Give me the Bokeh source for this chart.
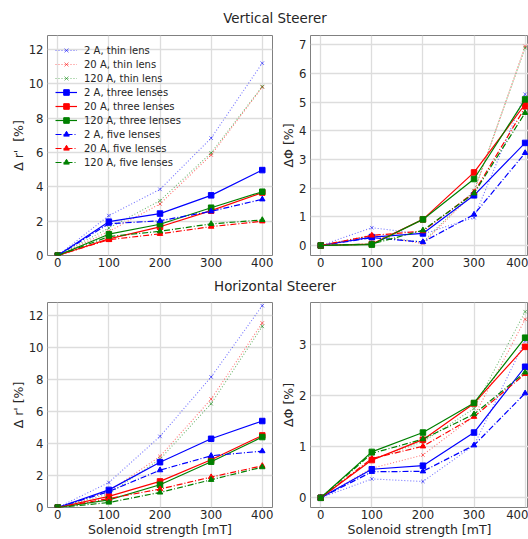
from bokeh.plotting import figure
from bokeh.layouts import column, row
from bokeh.models import Label, Range1d
from bokeh.embed import file_html
from bokeh.resources import INLINE

FONT = "DejaVu Sans"
TXT = "#262626"

x_mT = [0, 100, 200, 300, 400]
x_ticks = [0, 100, 200, 300, 400]

labels = ["2 A, thin lens", "20 A, thin lens", "120 A, thin lens",
          "2 A, three lenses", "20 A, three lenses", "120 A, three lenses",
          "2 A, five lenses", "20 A, five lenses", "120 A, five lenses"]

# Vertical steerer, delta r' [%]
v_r_2A_thin = [0, 2.32, 3.85, 6.83, 11.19]
v_r_20A_thin = [0, 1.40, 3.00, 5.85, 9.80]
v_r_120A_thin = [0, 1.60, 3.19, 5.97, 9.83]
v_r_2A_three = [0, 1.97, 2.44, 3.50, 4.97]
v_r_20A_three = [0, 0.97, 1.67, 2.61, 3.66]
v_r_120A_three = [0, 1.24, 1.82, 2.78, 3.71]
v_r_2A_five = [0, 1.85, 2.02, 2.57, 3.27]
v_r_20A_five = [0, 0.92, 1.26, 1.68, 1.99]
v_r_120A_five = [0, 1.10, 1.41, 1.84, 2.07]

# Vertical steerer, delta Phi [%]
v_p_2A_thin = [0, 0.62, 0.40, 0.97, 5.28]
v_p_20A_thin = [0, 0.36, 0.07, 1.85, 6.95]
v_p_120A_thin = [0, 0.33, 0.12, 1.90, 6.90]
v_p_2A_three = [0, 0.29, 0.42, 1.75, 3.58]
v_p_20A_three = [0, 0.05, 0.91, 2.55, 4.93]
v_p_120A_three = [0, 0.03, 0.91, 2.32, 5.10]
v_p_2A_five = [0, 0.27, 0.12, 1.08, 3.23]
v_p_20A_five = [0, 0.35, 0.50, 1.85, 4.82]
v_p_120A_five = [0, 0.05, 0.53, 1.82, 4.63]

# Horizontal steerer, delta r' [%]
h_r_2A_thin = [0, 1.56, 4.44, 8.15, 12.60]
h_r_20A_thin = [0, 1.00, 3.19, 6.77, 11.52]
h_r_120A_thin = [0, 0.85, 3.02, 6.48, 11.31]
h_r_2A_three = [0, 1.10, 2.83, 4.29, 5.40]
h_r_20A_three = [0, 0.69, 1.63, 2.98, 4.50]
h_r_120A_three = [0, 0.48, 1.42, 2.86, 4.40]
h_r_2A_five = [0, 1.00, 2.33, 3.23, 3.52]
h_r_20A_five = [0, 0.56, 1.15, 1.90, 2.60]
h_r_120A_five = [0, 0.31, 0.94, 1.73, 2.52]

# Horizontal steerer, delta Phi [%]
h_p_2A_thin = [0, 0.37, 0.32, 1.03, 3.08]
h_p_20A_thin = [0, 0.58, 0.84, 1.60, 3.50]
h_p_120A_thin = [0, 0.75, 1.10, 1.75, 3.65]
h_p_2A_three = [0, 0.56, 0.63, 1.28, 2.57]
h_p_20A_three = [0, 0.74, 1.14, 1.85, 2.96]
h_p_120A_three = [0, 0.90, 1.28, 1.86, 3.14]
h_p_2A_five = [0, 0.51, 0.52, 1.03, 2.05]
h_p_20A_five = [0, 0.77, 1.01, 1.59, 2.43]
h_p_120A_five = [0, 0.87, 1.15, 1.64, 2.46]

colors = ["#0000ff", "#ff0000", "#008000"]
kinds = ["thin", "thin", "thin", "three", "three", "three", "five", "five", "five"]

STYLE = {
    "thin": dict(dash="1 2", width=1.1, alpha=0.55, marker="x", size=5),
    "three": dict(dash="solid", width=1.2, alpha=1.0, marker="square", size=5.5),
    "five": dict(dash="6 2 1 2", width=1.2, alpha=1.0, marker="triangle", size=5.5),
}


def panel(width, height, x_end, y_rng, yticks, ylabel, series, borders, xlabel=None, legend=False):
    bl, br, bt, bb = borders
    p = figure(width=width, height=height, x_range=Range1d(-20, x_end),
               y_range=Range1d(*y_rng), toolbar_location=None, output_backend="svg",
               min_border_left=bl, min_border_right=br, min_border_top=bt,
               min_border_bottom=bb)
    p.outline_line_color = "#808080"
    p.outline_line_width = 1
    p.grid.grid_line_color = "#dddddd"
    p.grid.grid_line_width = 1.3
    for ax in (p.xaxis, p.yaxis):
        ax.major_tick_out = 0
        ax.major_tick_in = 0
        ax.minor_tick_line_color = None
        ax.axis_line_color = None
        ax.major_label_text_font = FONT
        ax.major_label_text_font_size = "11.7px"
        ax.major_label_text_color = TXT
        ax.axis_label_text_font = FONT
        ax.axis_label_text_font_size = "12.5px"
        ax.axis_label_text_font_style = "normal"
        ax.axis_label_text_color = TXT
    p.yaxis.major_label_standoff = 4
    p.yaxis.axis_label_standoff = 0
    p.xaxis.major_label_standoff = 2
    p.xaxis.axis_label_standoff = 0
    p.xaxis.ticker = x_ticks
    p.yaxis.ticker = yticks
    p.yaxis.axis_label = ylabel
    if xlabel:
        p.xaxis.axis_label = xlabel
    for i, ys in enumerate(series):
        st = STYLE[kinds[i]]
        c = colors[i % 3]
        kw = {"legend_label": labels[i]} if legend else {}
        p.line(x_mT, ys, line_color=c, line_width=st["width"], line_dash=st["dash"],
               line_alpha=st["alpha"], **kw)
        p.scatter(x_mT, ys, marker=st["marker"], size=st["size"], line_color=c,
                  fill_color=c, line_alpha=st["alpha"], fill_alpha=st["alpha"], **kw)
    if legend:
        lg = p.legend[0]
        lg.location = "top_left"
        lg.background_fill_alpha = 0
        lg.border_line_alpha = 0
        lg.label_text_font = FONT
        lg.label_text_font_size = "10px"
        lg.label_text_color = TXT
        lg.glyph_width = 22
        lg.glyph_height = 14
        lg.label_height = 14
        lg.spacing = 0
        lg.padding = 3
        lg.margin = 5
        lg.label_standoff = 7
    return p


def title_fig(text, h, center_from_top):
    t = figure(width=528, height=h, x_range=Range1d(0, 528), y_range=Range1d(0, h),
               toolbar_location=None, output_backend="svg", min_border=0)
    t.axis.visible = False
    t.grid.visible = False
    t.outline_line_color = None
    t.add_layout(Label(x=274.5, y=h - center_from_top, text=text, text_align="center",
                       text_baseline="middle", text_font=FONT, text_font_size="13.4px",
                       text_color=TXT))
    return t


v_r = [v_r_2A_thin, v_r_20A_thin, v_r_120A_thin, v_r_2A_three, v_r_20A_three,
       v_r_120A_three, v_r_2A_five, v_r_20A_five, v_r_120A_five]
v_p = [v_p_2A_thin, v_p_20A_thin, v_p_120A_thin, v_p_2A_three, v_p_20A_three,
       v_p_120A_three, v_p_2A_five, v_p_20A_five, v_p_120A_five]
h_r = [h_r_2A_thin, h_r_20A_thin, h_r_120A_thin, h_r_2A_three, h_r_20A_three,
       h_r_120A_three, h_r_2A_five, h_r_20A_five, h_r_120A_five]
h_p = [h_p_2A_thin, h_p_20A_thin, h_p_120A_thin, h_p_2A_three, h_p_20A_three,
       h_p_120A_three, h_p_2A_five, h_p_20A_five, h_p_120A_five]

LW, RW = 277, 251
tl = panel(LW, 247, 420, (0, 12.8), [0, 2, 4, 6, 8, 10, 12], "Δ r'\u00a0 [%]", v_r,
           (47, 5, 7, 20), legend=True)
tr = panel(RW, 247, 406.6, (-0.35, 7.33), [0, 1, 2, 3, 4, 5, 6, 7], "ΔΦ [%]", v_p,
           (33, 0, 7, 20))
bl = panel(LW, 243, 420, (0, 12.8), [0, 2, 4, 6, 8, 10, 12], "Δ r' [%]", h_r,
           (47, 5, 6, 31), xlabel="Solenoid strength [mT]")
br = panel(RW, 243, 406.6, (-0.19, 3.83), [0, 1, 2, 3], "ΔΦ [%]", h_p,
           (33, 0, 6, 31), xlabel="Solenoid strength [mT]")

layout = column(title_fig("Vertical Steerer", 28, 18), row(tl, tr),
                title_fig("Horizontal Steerer", 21, 11), row(bl, br))

open("out.html", "w").write(file_html(layout, INLINE))
